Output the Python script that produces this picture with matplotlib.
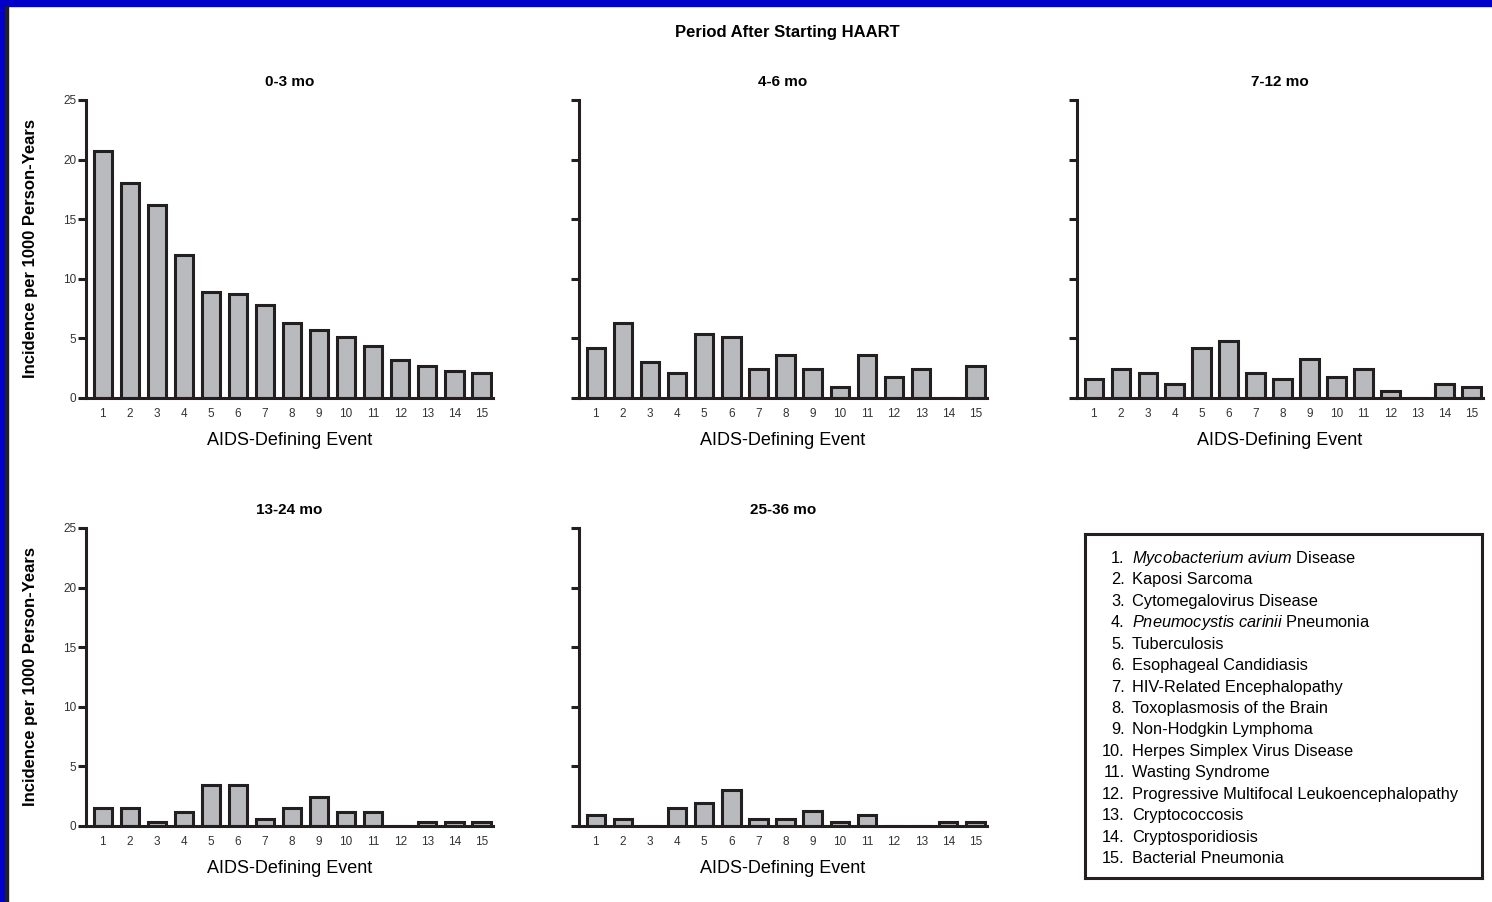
import numpy as np
import matplotlib
matplotlib.use('Agg')
import matplotlib.pyplot as plt
from matplotlib.patches import Rectangle

plt.rcParams['font.family'] = ['Liberation Sans', 'DejaVu Sans']
plt.rcParams['mathtext.fontset'] = 'custom'
plt.rcParams['mathtext.rm'] = 'Liberation Sans'
plt.rcParams['mathtext.it'] = 'Liberation Sans:italic'

# data (incidence per 1000 person-years)
events = np.arange(1, 16)
inc_0_3 = [20.7, 18.0, 16.2, 12.0, 8.9, 8.7, 7.8, 6.3, 5.7, 5.1, 4.4, 3.2, 2.7, 2.3, 2.1]
inc_4_6 = [4.2, 6.3, 3.0, 2.1, 5.4, 5.1, 2.4, 3.6, 2.4, 0.9, 3.6, 1.8, 2.4, 0.0, 2.7]
inc_7_12 = [1.6, 2.4, 2.1, 1.2, 4.2, 4.8, 2.1, 1.6, 3.3, 1.8, 2.4, 0.6, 0.0, 1.2, 0.9]
inc_13_24 = [1.5, 1.5, 0.3, 1.2, 3.4, 3.4, 0.6, 1.5, 2.4, 1.2, 1.2, 0.0, 0.3, 0.3, 0.3]
inc_25_36 = [0.9, 0.6, 0.0, 1.5, 1.9, 3.0, 0.6, 0.6, 1.3, 0.3, 0.9, 0.0, 0.0, 0.3, 0.3]
periods = ['0-3 mo', '4-6 mo', '7-12 mo', '13-24 mo', '25-36 mo']
yticks = [0, 5, 10, 15, 20, 25]

event_names = [r'$\it{Mycobacterium\ avium}$ Disease', 'Kaposi Sarcoma',
               'Cytomegalovirus Disease', r'$\it{Pneumocystis\ carinii}$ Pneumonia',
               'Tuberculosis', 'Esophageal Candidiasis', 'HIV-Related Encephalopathy',
               'Toxoplasmosis of the Brain', 'Non-Hodgkin Lymphoma',
               'Herpes Simplex Virus Disease', 'Wasting Syndrome',
               'Progressive Multifocal Leukoencephalopathy', 'Cryptococcosis',
               'Cryptosporidiosis', 'Bacterial Pneumonia']

dark = '#231f20'
fill = '#b9babe'
W, H = 1492, 902

fig = plt.figure(figsize=(W / 100, H / 100), dpi=100)

# axes boxes in pixels: left, top, right, bottom
boxes = [(86, 100, 493, 398), (579, 100, 987, 398), (1077, 100, 1483, 398),
         (86, 528, 493, 826), (579, 528, 987, 826)]
data = [inc_0_3, inc_4_6, inc_7_12, inc_13_24, inc_25_36]

for i, (l, t, r, b) in enumerate(boxes):
    ax = fig.add_axes([l / W, 1 - b / H, (r - l) / W, (b - t) / H])
    ax.bar(events, data[i], width=0.68, color=fill, edgecolor=dark, linewidth=2.2, zorder=3)
    ax.set_xlim(0.38, 15.43)
    ax.set_ylim(0, 25)
    ax.set_xticks(events)
    ax.set_xticklabels([str(e) for e in events], fontsize=8.5, color='#333333')
    ax.set_yticks(yticks)
    ax.tick_params(axis='x', length=0, pad=7)
    ax.tick_params(axis='y', length=6, width=2.2, color=dark, pad=1, labelsize=8.5,
                   labelcolor='#333333')
    for s in ['top', 'right']:
        ax.spines[s].set_visible(False)
    for s in ['left', 'bottom']:
        ax.spines[s].set_linewidth(2.2)
        ax.spines[s].set_color(dark)
        ax.spines[s].set_zorder(4)
    ax.set_xlabel('AIDS-Defining Event', fontsize=13, labelpad=9)
    ax.set_title(periods[i], fontsize=11, fontweight='bold', pad=10)
    if i in (0, 3):
        ax.set_ylabel('Incidence per 1000 Person-Years', fontsize=12, fontweight='bold')
        ax.yaxis.set_label_coords(-0.118, 0.5)
    else:
        ax.tick_params(axis='y', labelleft=False)

fig.text(787 / W, 1 - 33 / H, 'Period After Starting HAART', fontsize=12,
         fontweight='bold', ha='center', va='center')

# legend box
lx0, ly0, lx1, ly1 = 1085, 534, 1482, 878
lax = fig.add_axes([lx0 / W, 1 - ly1 / H, (lx1 - lx0) / W, (ly1 - ly0) / H])
lax.set_xlim(0, 1)
lax.set_ylim(0, 1)
lax.set_xticks([])
lax.set_yticks([])
for s in lax.spines.values():
    s.set_linewidth(2.2)
    s.set_color(dark)
fs = 11.8
for k, name in enumerate(event_names):
    ypix = 563 + k * 21.43
    yy = (ly1 - ypix) / (ly1 - ly0)
    lax.text(0.100, yy, f'{k + 1}.', fontsize=fs, ha='right', va='baseline')
    lax.text(0.118, yy, name, fontsize=fs, ha='left', va='baseline')

# blue frame of the slide
fig.patches.append(Rectangle((0, 1 - 6 / H), 1, 6 / H, transform=fig.transFigure,
                             color='#0000c8', zorder=10))
fig.patches.append(Rectangle((0, 0), 5 / W, 1, transform=fig.transFigure,
                             color='#0000c8', zorder=10))
fig.patches.append(Rectangle((5 / W, 0), 3 / W, 1 - 6 / H, transform=fig.transFigure,
                             color=dark, zorder=10))

plt.savefig('out.png', dpi=100)
